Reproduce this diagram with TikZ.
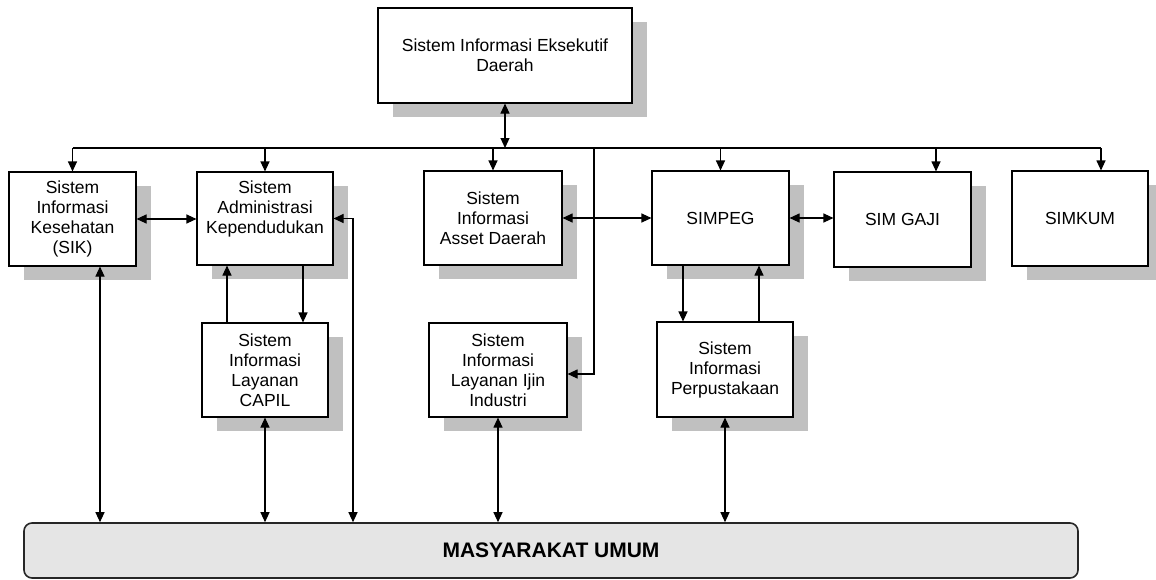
\documentclass[tikz,border=0pt]{standalone}
\usepackage{fontspec}
\setmainfont{Liberation Sans}
\usetikzlibrary{arrows.meta,shadows}
\definecolor{shadowgray}{HTML}{C0C0C0}
\definecolor{basefill}{HTML}{E5E5E5}
\begin{document}
\begin{tikzpicture}[x=1pt,y=-1pt,
  sysbox/.style={draw=black,line width=1.1pt,fill=white,inner sep=0pt,align=center,
    font=\fontsize{17.5}{20}\selectfont,
    drop shadow={shadow xshift=15pt,shadow yshift=-14pt,fill=shadowgray,opacity=1}},
  base/.style={draw=black!85,line width=1.6pt,fill=basefill,rounded corners=8pt,inner sep=0pt,
    font=\fontsize{21}{24}\selectfont\bfseries},
  link/.style={line width=1.1pt},
  arr/.style={link,-{Triangle[length=10pt,width=9pt]}},
  dbl/.style={link,{Triangle[length=10pt,width=9pt]}-{Triangle[length=10pt,width=9pt]}}]
\useasboundingbox (0,0) rectangle (1156,579);

% systems
\node[sysbox,minimum width=254pt,minimum height=95pt] (exec) at (505,55.5) {Sistem Informasi Eksekutif\\Daerah};
\node[sysbox,minimum width=127pt,minimum height=94pt] (sik) at (72.5,219) {Sistem\\Informasi\\Kesehatan\\(SIK)};
\node[sysbox,minimum width=136pt,minimum height=93pt] (sak) at (265,218.5) {Sistem\\Administrasi\\Kependudukan\\[-4pt]\strut};
\node[sysbox,minimum width=138pt,minimum height=94pt] (asset) at (493,218) {Sistem\\Informasi\\Asset Daerah};
\node[sysbox,minimum width=137pt,minimum height=94pt] (simpeg) at (720.5,218) {SIMPEG};
\node[sysbox,minimum width=137pt,minimum height=95pt] (gaji) at (902.5,219.5) {SIM GAJI};
\node[sysbox,minimum width=136pt,minimum height=95pt] (simkum) at (1080,218.5) {SIMKUM};
\node[sysbox,minimum width=126pt,minimum height=94pt] (capil) at (265,370) {Sistem\\Informasi\\Layanan\\CAPIL};
\node[sysbox,minimum width=138pt,minimum height=94pt] (ijin) at (498,370) {Sistem\\Informasi\\Layanan Ijin\\Industri};
\node[sysbox,minimum width=136pt,minimum height=95pt] (perpus) at (725,369.5) {Sistem\\Informasi\\Perpustakaan};
\node[base,minimum width=1054pt,minimum height=55pt] (mas) at (551,550.5) {MASYARAKAT UMUM};

% routing points
\coordinate (bus) at (0,148);
\coordinate (tapgaji) at ([xshift=33.5pt]gaji.north);
\coordinate (tapkum) at ([xshift=21pt]simkum.north);
\coordinate (tapijin) at (594,148);
\coordinate (ijinin) at ([yshift=-4pt]ijin.east);
\coordinate (sakrail) at (353,0);
\coordinate (sakup) at ([xshift=-38pt]sak.south);
\coordinate (sakdn) at ([xshift=38pt]sak.south);
\coordinate (pegdn) at ([xshift=-37.5pt]simpeg.south);
\coordinate (pegup) at ([xshift=38.5pt]simpeg.south);
\coordinate (sikdn) at ([xshift=27.5pt]sik.south);

% distribution bus from the executive system
\draw[dbl] (exec.south) -- (exec.south |- bus);
\draw[link] (sik.north |- bus) -- (tapkum |- bus);
\draw[arr] (sik.north |- bus) -- (sik.north);
\draw[arr] (sak.north |- bus) -- (sak.north);
\draw[arr] (asset.north |- bus) -- (asset.north);
\draw[arr] (simpeg.north |- bus) -- (simpeg.north);
\draw[arr] (tapgaji |- bus) -- (tapgaji);
\draw[arr] (tapkum |- bus) -- (tapkum);
\draw[arr] (tapijin) |- (ijinin);

% links between systems
\draw[dbl] (sik.east) -- (sik.east -| sak.west);
\draw[dbl] (asset.east) -- (asset.east -| simpeg.west);
\draw[dbl] (simpeg.east) -- (simpeg.east -| gaji.west);
\draw[arr] (sakdn) -- (sakdn |- capil.north);
\draw[arr] (sakup |- capil.north) -- (sakup);
\draw[arr] (pegdn) -- (pegdn |- perpus.north);
\draw[arr] (pegup |- perpus.north) -- (pegup);

% links to the public
\draw[dbl] (sak.east) -- (sak.east -| sakrail) -- (sakrail |- mas.north);
\draw[dbl] (sikdn) -- (sikdn |- mas.north);
\draw[dbl] (capil.south) -- (capil.south |- mas.north);
\draw[dbl] (ijin.south) -- (ijin.south |- mas.north);
\draw[dbl] (perpus.south) -- (perpus.south |- mas.north);
\end{tikzpicture}
\end{document}
